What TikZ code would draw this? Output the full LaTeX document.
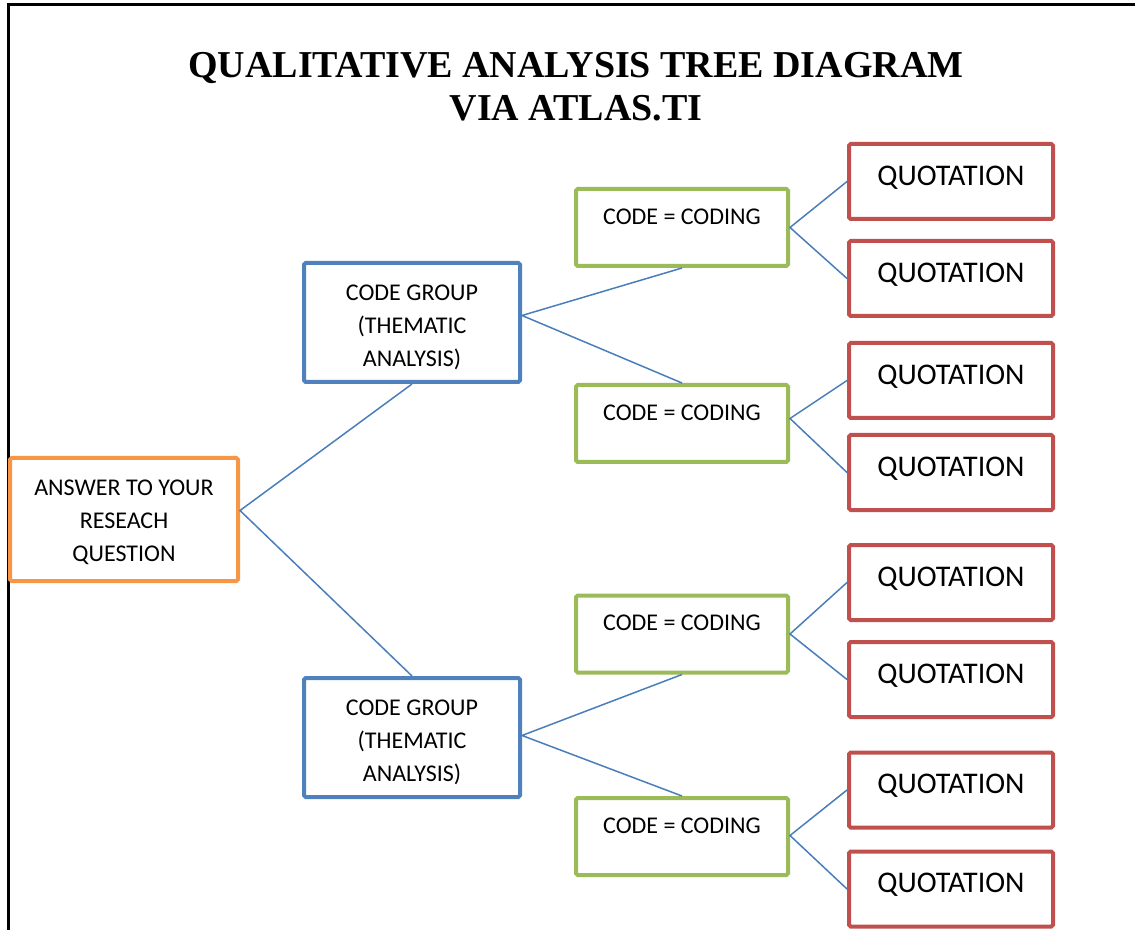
\documentclass[tikz,border=0pt]{standalone}
\usepackage{fontspec}
\setmainfont{Liberation Serif}
\setsansfont{Carlito}
\definecolor{ansorange}{HTML}{F79646}
\definecolor{grpblue}{HTML}{4F81BD}
\definecolor{codegreen}{HTML}{9BBB59}
\definecolor{quotred}{HTML}{C0504D}
\definecolor{linkblue}{HTML}{4A7EBB}
\tikzstyle{base} = [draw, line width=2pt, align=center, inner sep=2pt, rounded corners=0.8pt]
\tikzstyle{answer} = [base, draw=ansorange, minimum width=114pt, minimum height=61.5pt,
 text height=43.8pt, font=\sffamily\fontsize{12}{16.5}\selectfont]
\tikzstyle{group} = [base, draw=grpblue, minimum width=108pt, minimum height=59.5pt,
 text height=45.8pt, font=\sffamily\fontsize{12}{16.5}\selectfont]
\tikzstyle{code} = [base, draw=codegreen, minimum width=106pt, minimum height=38.5pt,
 text depth=11pt, font=\sffamily\fontsize{12}{16.5}\selectfont]
\tikzstyle{quote} = [base, draw=quotred, minimum width=102pt, minimum height=37.5pt,
 text depth=6pt, font=\sffamily\fontsize{15}{18}\selectfont]
\tikzstyle{link} = [draw=linkblue, line width=0.75pt]
\tikzstyle{frame} = [line width=1.5pt]
\begin{document}
\begin{tikzpicture}[x=0.5pt, y=-0.5pt]
\useasboundingbox (0,0) rectangle (1135,930);

% page frame
\draw[frame] (8,930) -- (8,5) -- (1135,5);

% title
\node (TITLE) [font=\bfseries\fontsize{19}{21.5}\selectfont, align=center] at (576,87)
    {QUALITATIVE ANALYSIS TREE DIAGRAM\\VIA ATLAS.TI};

% tree
\node (ANSWER) [answer] at (124,519.5) {ANSWER TO YOUR\\RESEACH\\QUESTION};

\node (GROUP1) [group] at (412,322.5) {CODE GROUP\\(THEMATIC\\ANALYSIS)};
\node (GROUP2) [group] at (412,737.5) {CODE GROUP\\(THEMATIC\\ANALYSIS)};

\node (CODE1) [code] at (682,227.5) {CODE = CODING};
\node (CODE2) [code] at (682,423.5) {CODE = CODING};
\node (CODE3) [code] at (682,634) {CODE = CODING};
\node (CODE4) [code] at (682,836.5) {CODE = CODING};

\node (QUOTE1) [quote] at (951,181.5) {QUOTATION};
\node (QUOTE2) [quote] at (951,278.5) {QUOTATION};
\node (QUOTE3) [quote] at (951,380.5) {QUOTATION};
\node (QUOTE4) [quote] at (951,472.5) {QUOTATION};
\node (QUOTE5) [quote] at (951,582.5) {QUOTATION};
\node (QUOTE6) [quote] at (951,679.5) {QUOTATION};
\node (QUOTE7) [quote] at (951,790) {QUOTATION};
\node (QUOTE8) [quote] at (951,889) {QUOTATION};

% Links
\draw[link] (GROUP1.south) -- ([yshift=4.5pt]ANSWER.east) -- (GROUP2.north);

\draw[link] (CODE1.south) -- ([yshift=3.5pt]GROUP1.east) -- (CODE2.north);
\draw[link] (CODE3.south) -- ([yshift=1pt]GROUP2.east) -- (CODE4.north);

\draw[link] (QUOTE1.west) -- (CODE1.east) -- (QUOTE2.west);
\draw[link] (QUOTE3.west) -- ([yshift=2.5pt]CODE2.east) -- (QUOTE4.west);
\draw[link] (QUOTE5.west) -- (CODE3.east) -- (QUOTE6.west);
\draw[link] (QUOTE7.west) -- ([yshift=0.5pt]CODE4.east) -- (QUOTE8.west);

\end{tikzpicture}
\end{document}
